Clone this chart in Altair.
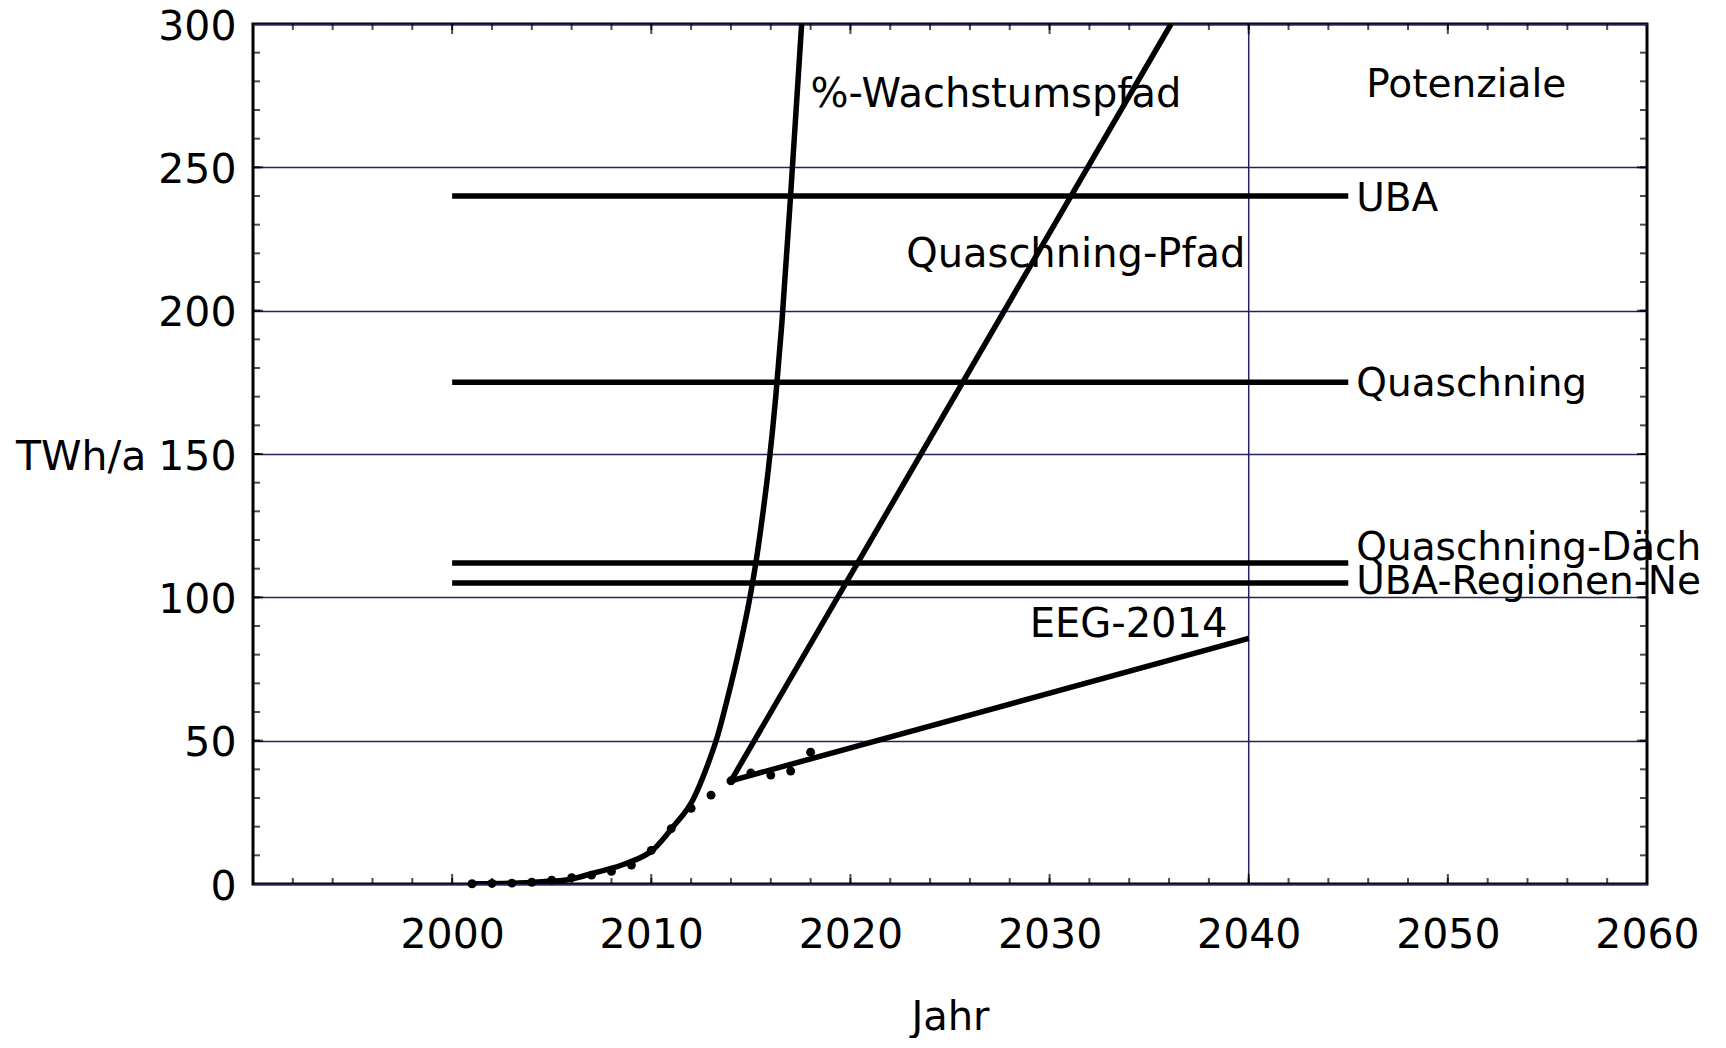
import altair as alt
import pandas as pd

# ---------------- data ----------------
dot_years = [2001, 2002, 2003, 2004, 2005, 2006, 2007, 2008, 2009, 2010,
             2011, 2012, 2013, 2014, 2015, 2016, 2017, 2018]
dot_values = [0.1, 0.2, 0.3, 0.6, 1.3, 2.2, 3.1, 4.4, 6.6, 11.7,
              19.3, 26.4, 31.0, 36.0, 38.7, 38.0, 39.4, 46.0]

growth_years = [2001.0, 2003.0, 2004.5, 2005.8, 2007.1, 2008.8, 2010.1, 2011.1,
                2012.1, 2012.8, 2013.3, 2013.8, 2014.45, 2014.9, 2015.25, 2015.5,
                2015.9, 2016.25, 2016.55, 2017.05, 2017.55]
growth_values = [0.1, 0.3, 0.8, 1.5, 3.8, 7.3, 12.0, 20.0,
                 29.5, 41.0, 51.0, 64.0, 83.0, 98.0, 112.0, 124.0,
                 146.0, 170.0, 195.0, 246.0, 300.0]

quasch_path_years = [2014.0, 2036.1]
quasch_path_values = [36.0, 300.0]

eeg_years = [2014.0, 2040.0]
eeg_values = [36.0, 85.7]

pot_names = ["UBA", "Quaschning", "Quaschning-Däch", "UBA-Regionen-Ne"]
pot_values = [240, 175, 112, 105]
pot_start = 2000
pot_end = 2045

ann_text = ["%-Wachstumspfad", "Quaschning-Pfad", "EEG-2014"]
ann_x = [2018.0, 2022.8, 2029.0]
ann_y = [271.0, 215.3, 86.0]
head_text = "Potenziale"
head_x = 2045.9
head_y = 274.6

x_labels = [2000, 2010, 2020, 2030, 2040, 2050, 2060]
y_labels = [0, 50, 100, 150, 200, 250, 300]
x_grid = [2040]
x_minor = list(range(1992, 2060, 2))
x_major = [2000, 2010, 2020, 2030, 2040, 2050]
y_minor = list(range(10, 300, 10))
y_major = [50, 100, 150, 200, 250]

# ---------------- styling ----------------
FONT = "DejaVu Sans"
GRID = "#22225e"
LW = 5.5

xs = alt.Scale(domain=[1990, 2060], nice=False, zero=False)
ys = alt.Scale(domain=[0, 300], nice=False, zero=False)

x_axis = alt.Axis(values=x_labels, format="d", labelFont=FONT, labelFontSize=41,
                  labelColor="black", ticks=False, tickSize=0, domain=False, grid=False,
                  labelPadding=31, labelFlush=False, labelOverlap=False,
                  title="Jahr", titleFont=FONT, titleFontSize=40, titleFontWeight="normal",
                  titleColor="black", titleX=697, titleY=145, titleAlign="center",
                  titleBaseline="alphabetic")
y_axis = alt.Axis(values=y_labels, labelFont=FONT, labelFontSize=41, labelColor="black",
                  ticks=False, tickSize=0, domain=False, grid=True, gridColor=GRID,
                  gridWidth=1.5, labelPadding=17, labelOffset=3,
                  title="TWh/a", titleFont=FONT, titleFontSize=41, titleFontWeight="normal",
                  titleColor="black", titleAngle=0, titleAlign="right", titleX=-107,
                  titleY=433, titleBaseline="middle")

# ---------------- frames ----------------
dots_df = pd.DataFrame({"year": dot_years, "value": dot_values})
growth_df = pd.DataFrame({"year": growth_years, "value": growth_values})
qpath_df = pd.DataFrame({"year": quasch_path_years, "value": quasch_path_values})
eeg_df = pd.DataFrame({"year": eeg_years, "value": eeg_values})
pot_df = pd.DataFrame({"name": pot_names, "value": pot_values,
                       "x0": [pot_start] * len(pot_names), "x1": [pot_end] * len(pot_names)})
ann_df = pd.DataFrame({"text": ann_text, "year": ann_x, "value": ann_y})

base_axes = alt.Chart(pd.DataFrame({"year": [1990], "value": [0]})).mark_point(opacity=0).encode(
    x=alt.X("year:Q", scale=xs, axis=x_axis),
    y=alt.Y("value:Q", scale=ys, axis=y_axis),
)

vgrid = alt.Chart(pd.DataFrame({"year": x_grid})).mark_rule(color=GRID, strokeWidth=1.5).encode(
    x=alt.X("year:Q", scale=xs)
)

# inward ticks
def xticks(vals, size, at, sign):
    return alt.Chart(pd.DataFrame({"year": vals})).mark_tick(
        orient="vertical", size=size, thickness=2, color="black", yOffset=sign * size / 2
    ).encode(x=alt.X("year:Q", scale=xs), y=alt.datum(at, scale=ys))

def yticks(vals, size, at, sign):
    return alt.Chart(pd.DataFrame({"value": vals})).mark_tick(
        orient="horizontal", size=size, thickness=2, color="black", xOffset=sign * size / 2
    ).encode(y=alt.Y("value:Q", scale=ys), x=alt.datum(at, scale=xs))

tick_layers = [
    xticks(x_minor, 6, 0, -1), xticks(x_major, 10, 0, -1),
    xticks(x_minor, 6, 300, 1), xticks(x_major, 10, 300, 1),
    yticks(y_minor, 7, 1990, 1), yticks(y_major, 10, 1990, 1),
    yticks(y_minor, 7, 2060, -1), yticks(y_major, 10, 2060, -1),
]

pot_lines = alt.Chart(pot_df).mark_rule(color="black", strokeWidth=LW).encode(
    x=alt.X("x0:Q", scale=xs), x2="x1:Q", y=alt.Y("value:Q", scale=ys)
)

growth_line = alt.Chart(growth_df).mark_line(
    color="black", strokeWidth=LW, interpolate="monotone", clip=True
).encode(x=alt.X("year:Q", scale=xs), y=alt.Y("value:Q", scale=ys))

qpath_line = alt.Chart(qpath_df).mark_line(color="black", strokeWidth=LW, clip=True).encode(
    x=alt.X("year:Q", scale=xs), y=alt.Y("value:Q", scale=ys))

eeg_line = alt.Chart(eeg_df).mark_line(color="black", strokeWidth=LW).encode(
    x=alt.X("year:Q", scale=xs), y=alt.Y("value:Q", scale=ys))

dots = alt.Chart(dots_df).mark_circle(color="black", size=80, opacity=1).encode(
    x=alt.X("year:Q", scale=xs), y=alt.Y("value:Q", scale=ys))

pot_dy = [15, 14, -3, 11]
pot_labels = [
    alt.Chart(pot_df[pot_df["name"] == n]).mark_text(
        font=FONT, fontSize=39, align="left", baseline="alphabetic", dx=8, dy=d, color="black"
    ).encode(x=alt.X("x1:Q", scale=xs), y=alt.Y("value:Q", scale=ys), text="name:N")
    for n, d in zip(pot_names, pot_dy)
]

ann_labels = alt.Chart(ann_df).mark_text(
    font=FONT, fontSize=40, align="left", baseline="alphabetic", color="black"
).encode(x=alt.X("year:Q", scale=xs), y=alt.Y("value:Q", scale=ys), text="text:N")

head_label = alt.Chart(pd.DataFrame({"text": [head_text], "year": [head_x], "value": [head_y]})).mark_text(
    font=FONT, fontSize=39, align="left", baseline="alphabetic", color="black"
).encode(x=alt.X("year:Q", scale=xs), y=alt.Y("value:Q", scale=ys), text="text:N")

chart = alt.layer(
    base_axes, vgrid, *tick_layers, pot_lines, growth_line, qpath_line, eeg_line, dots,
    *pot_labels, ann_labels, head_label
).properties(
    width=1394, height=860,
    autosize=alt.AutoSizeParams(type="none"),
    padding={"left": 245, "top": 16, "right": 61, "bottom": 154},
    background="white",
).configure_view(stroke="black", strokeWidth=3)

chart.save("out.html", embed_options={"renderer": "svg", "actions": False})
